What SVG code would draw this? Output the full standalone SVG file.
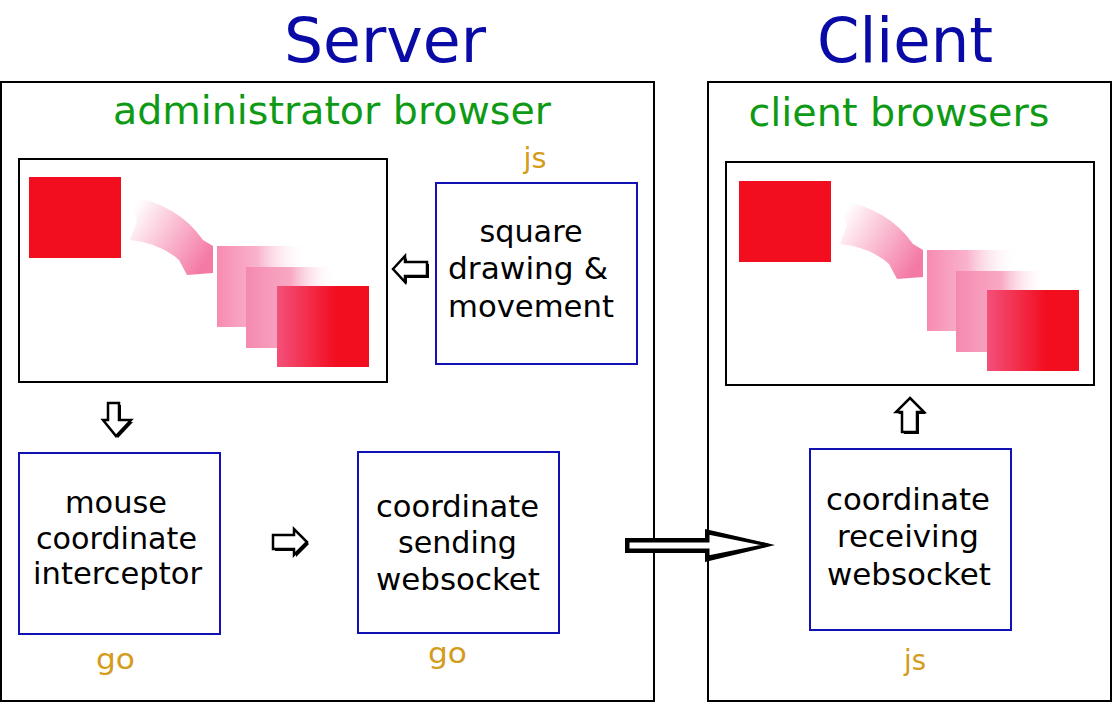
<svg xmlns="http://www.w3.org/2000/svg" width="1112" height="703" viewBox="0 0 1112 703">
<style>
.frame{fill:#fff;stroke:#000;stroke-width:2}
.imgbox{fill:#fff;stroke:#000;stroke-width:2}
.node{fill:#fff;stroke:#1212b4;stroke-width:2}
.title{font-family:"DejaVu Sans",sans-serif;font-size:63px;fill:#0a0aa6;text-anchor:middle}
.sub{font-family:"DejaVu Sans",sans-serif;font-size:39px;fill:#0e9a14;text-anchor:middle}
.lbl{font-family:"DejaVu Sans",sans-serif;font-size:30px;fill:#000;text-anchor:middle}
.lang{font-family:"DejaVu Sans",sans-serif;font-size:29px;fill:#d49c1c;text-anchor:middle}
.red{fill:#f20d1f}
.arr{fill:#fff;stroke:#000;stroke-width:2.5;stroke-linejoin:miter}
.sh{fill:#000}
</style>
<defs>
<linearGradient id="gP1" x1="0" y1="0" x2="1" y2="0">
<stop offset="0" stop-color="#f78bb1"/>
<stop offset="0.45" stop-color="#f9b3cc"/>
<stop offset="1" stop-color="#ffffff" stop-opacity="0"/>
</linearGradient>
<linearGradient id="gP2" x1="0" y1="0" x2="1" y2="0">
<stop offset="0" stop-color="#f589b0"/>
<stop offset="0.5" stop-color="#f8a9c4"/>
<stop offset="1" stop-color="#ffffff" stop-opacity="0"/>
</linearGradient>
<linearGradient id="gR3" x1="0" y1="0" x2="1" y2="0">
<stop offset="0" stop-color="#f3507a"/>
<stop offset="0.65" stop-color="#f20d1f"/>
<stop offset="1" stop-color="#f20d1f"/>
</linearGradient>
<linearGradient id="gCurve" gradientUnits="userSpaceOnUse" x1="130" y1="215" x2="205" y2="262">
<stop offset="0" stop-color="#ffffff"/>
<stop offset="0.3" stop-color="#fcd6e3"/>
<stop offset="1" stop-color="#f47aa6"/>
</linearGradient>
<g id="anim">
<rect class="red" x="29" y="177" width="92" height="81"/>
<path d="M128,196 Q178,204 203,240 L213,246 L213,273 L187,275 L179,260 Q160,243 130,240 L137,221 Z" fill="url(#gCurve)"/>
<rect x="217" y="246" width="90" height="81" fill="url(#gP1)"/>
<rect x="246" y="267" width="90" height="81" fill="url(#gP2)"/>
<rect x="277" y="286" width="92" height="81" fill="url(#gR3)"/>
</g>
</defs>

<g id="server">
<rect class="frame" x="1" y="82" width="653" height="619"/>
<text class="title" x="385" y="62" textLength="202" lengthAdjust="spacingAndGlyphs">Server</text>
<text class="sub" x="332" y="124" textLength="438" lengthAdjust="spacingAndGlyphs">administrator browser</text>
</g>
<g id="client">
<rect class="frame" x="708" y="82" width="403" height="619"/>
<text class="title" x="905" y="62" textLength="176" lengthAdjust="spacingAndGlyphs">Client</text>
<text class="sub" x="899" y="126" textLength="301" lengthAdjust="spacingAndGlyphs">client browsers</text>
</g>

<g id="admin-view">
<rect class="imgbox" x="19" y="159" width="368" height="223"/>
<use href="#anim"/>
</g>
<g id="client-view">
<rect class="imgbox" x="726" y="162" width="368" height="223"/>
<use href="#anim" transform="translate(710,4)"/>
</g>

<g id="square-drawing">
<rect class="node" x="436" y="183" width="201" height="181"/>
<text class="lbl" x="531" y="242" textLength="103" lengthAdjust="spacingAndGlyphs">square</text>
<text class="lbl" x="528" y="279" textLength="160" lengthAdjust="spacingAndGlyphs">drawing &amp;</text>
<text class="lbl" x="531" y="317" textLength="166" lengthAdjust="spacingAndGlyphs">movement</text>
<text class="lang" x="535" y="168" textLength="23" lengthAdjust="spacingAndGlyphs">js</text>
</g>
<g id="mouse-interceptor">
<rect class="node" x="19" y="453" width="201" height="181"/>
<text class="lbl" x="116" y="513" textLength="102" lengthAdjust="spacingAndGlyphs">mouse</text>
<text class="lbl" x="116.5" y="549" textLength="161" lengthAdjust="spacingAndGlyphs">coordinate</text>
<text class="lbl" x="117.5" y="584" textLength="169" lengthAdjust="spacingAndGlyphs">interceptor</text>
<text class="lang" x="115.5" y="669" textLength="39" lengthAdjust="spacingAndGlyphs">go</text>
</g>
<g id="sending-websocket">
<rect class="node" x="358" y="452" width="201" height="181"/>
<text class="lbl" x="457.5" y="517" textLength="163" lengthAdjust="spacingAndGlyphs">coordinate</text>
<text class="lbl" x="457.5" y="553" textLength="119" lengthAdjust="spacingAndGlyphs">sending</text>
<text class="lbl" x="458" y="590" textLength="164" lengthAdjust="spacingAndGlyphs">websocket</text>
<text class="lang" x="447.5" y="663" textLength="39" lengthAdjust="spacingAndGlyphs">go</text>
</g>
<g id="receiving-websocket">
<rect class="node" x="810" y="449" width="201" height="181"/>
<text class="lbl" x="908" y="510" textLength="164" lengthAdjust="spacingAndGlyphs">coordinate</text>
<text class="lbl" x="908" y="547" textLength="142" lengthAdjust="spacingAndGlyphs">receiving</text>
<text class="lbl" x="909" y="585" textLength="164" lengthAdjust="spacingAndGlyphs">websocket</text>
<text class="lang" x="915" y="670" textLength="22" lengthAdjust="spacingAndGlyphs">js</text>
</g>

<g id="connectors">
<polygon class="sh" points="395,271 407,258 407,264 429,264 429,278 407,278 407,284"/>
<polygon class="arr" points="393,269 405,256 405,262 427,262 427,276 405,276 405,282"/>
<polygon class="sh" points="110,405 121,405 121,422 133,422 118,438 105,422 110,422"/>
<polygon class="arr" points="108,403 119,403 119,420 131,420 116,436 103,420 108,420"/>
<polygon class="sh" points="275,537 296,537 296,531 309,544 296,557 296,551 275,551"/>
<polygon class="arr" points="273,535 294,535 294,529 307,542 294,555 294,549 273,549"/>
<polygon class="sh" points="912,400 926,414 919,414 919,434 904,434 904,414 898,414"/>
<polygon class="arr" points="910,398 924,412 917,412 917,432 902,432 902,412 896,412"/>
<polygon class="sh" points="625,538 705,538 705,529 775,545 705,562 705,553 625,553"/>
<polygon class="arr" style="stroke-width:3" points="628,541 708,541 708,533 768,545 708,557 708,550 628,550"/>
</g>
</svg>
